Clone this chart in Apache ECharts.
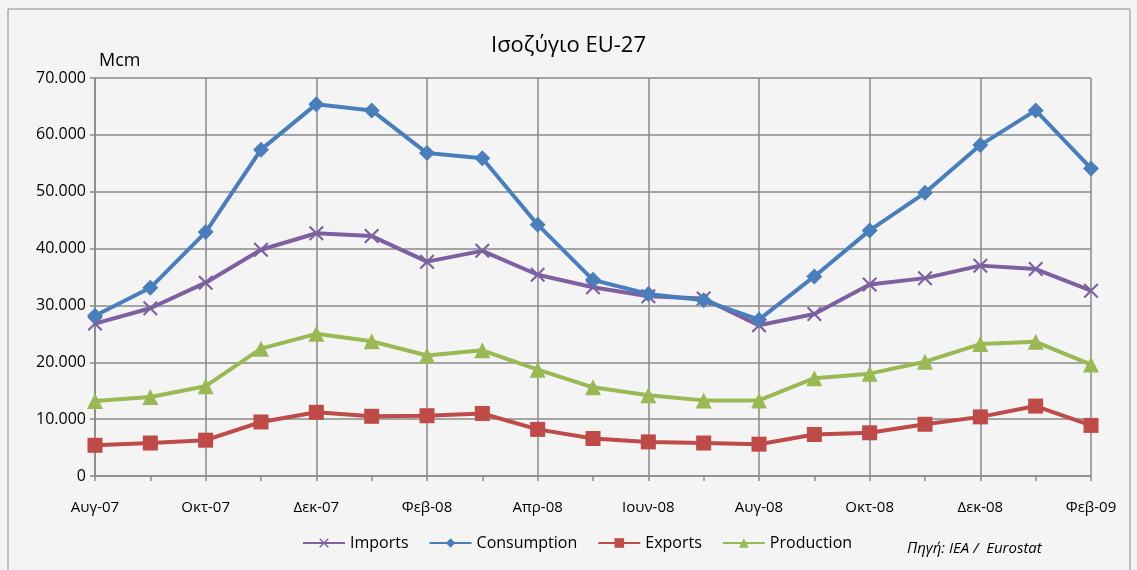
<!DOCTYPE html>
<html>
<head>
<meta charset="utf-8">
<script src="https://cdn.jsdelivr.net/npm/echarts@6/dist/echarts.min.js"></script>
<style>
  html, body { margin: 0; padding: 0; background: #fff; }
  #chart { width: 1137px; height: 570px; }
</style>
</head>
<body>
<div id="chart"></div>
<script>
// μήνες Αυγ-07 .. Φεβ-09
var months = ['Αυγ-07', 'Σεπ-07', 'Οκτ-07', 'Νοε-07', 'Δεκ-07', 'Ιαν-08', 'Φεβ-08', 'Μαρ-08',
  'Απρ-08', 'Μαϊ-08', 'Ιουν-08', 'Ιουλ-08', 'Αυγ-08', 'Σεπ-08', 'Οκτ-08', 'Νοε-08',
  'Δεκ-08', 'Ιαν-09', 'Φεβ-09'];

// τιμές σε Mcm
var imports = [26800, 29500, 34000, 39800, 42700, 42200, 37700, 39600, 35400, 33200,
  31600, 31200, 26500, 28500, 33700, 34800, 37000, 36400, 32600];
var consumption = [28200, 33100, 42900, 57400, 65400, 64300, 56800, 55900, 44200, 34500,
  32000, 30900, 27500, 35100, 43200, 49800, 58200, 64300, 54100];
var exportsData = [5400, 5800, 6300, 9500, 11200, 10500, 10600, 11000, 8200, 6600,
  6000, 5800, 5600, 7300, 7600, 9100, 10400, 12300, 8900];
var production = [13200, 13900, 15800, 22400, 25000, 23700, 21200, 22100, 18700, 15600,
  14200, 13300, 13300, 17200, 18000, 20100, 23200, 23600, 19600];

var font = '"Open Sans", "Noto Sans", sans-serif';
var gridColor = '#8a8a8a';
var crossPath = 'path://M0,1 L1,0 L5,4 L9,0 L10,1 L6,5 L10,9 L9,10 L5,6 L1,10 L0,9 L4,5 Z';

function lineSeries(name, data, color, symbol, size) {
    return {
        name: name,
        type: 'line',
        data: data,
        symbol: symbol,
        symbolSize: size,
        showSymbol: true,
        lineStyle: { color: color, width: 4 },
        itemStyle: { color: color },
        emphasis: { disabled: true }
    };
}

var chart = echarts.init(document.getElementById('chart'));

var option = {
    backgroundColor: '#f4f4f4',
    animation: false,
    textStyle: { fontFamily: font },
    title: {
        text: 'Ισοζύγιο EU-27',
        left: 'center',
        top: 30,
        textStyle: { fontFamily: font, fontSize: 22, fontWeight: 'normal', color: '#000' }
    },
    graphic: [
        {
            type: 'rect',
            shape: { x: 8, y: 9, width: 1122, height: 580 },
            style: { fill: 'none', stroke: '#8c8c8c', lineWidth: 1 }
        },
        {
            type: 'text',
            left: 907,
            top: 541,
            style: {
                text: 'Πηγή: IEA /  Eurostat',
                font: 'italic 15px ' + font,
                fill: '#000'
            }
        },
        {
            type: 'text',
            left: 99,
            top: 52,
            style: { text: 'Mcm', font: '18px ' + font, fill: '#000' }
        }
    ],
    legend: {
        bottom: 14,
        left: 297,
        itemWidth: 42,
        itemHeight: 12,
        itemGap: 20,
        textStyle: { fontFamily: font, fontSize: 16, color: '#000' },
        data: ['Imports', 'Consumption', 'Exports', 'Production']
    },
    grid: { left: 95, right: 46, top: 78, bottom: 94 },
    xAxis: {
        type: 'category',
        data: months,
        boundaryGap: false,
        axisLine: { lineStyle: { color: gridColor, width: 1.5 } },
        axisTick: { show: true, interval: 0, length: 5, lineStyle: { color: gridColor, width: 1.5 } },
        axisLabel: { interval: 1, margin: 24, color: '#000', fontSize: 15, fontFamily: font },
        splitLine: { show: true, interval: 1, lineStyle: { color: gridColor, width: 1.5 } }
    },
    yAxis: {
        type: 'value',
        min: 0,
        max: 70000,
        interval: 10000,
        axisLine: { show: true, lineStyle: { color: gridColor, width: 1.5 } },
        axisTick: { show: true, length: 5, lineStyle: { color: gridColor, width: 1.5 } },
        axisLabel: {
            color: '#000',
            fontSize: 16,
            fontFamily: font,
            margin: 9,
            formatter: function (v) {
                return v === 0 ? '0' : String(v).replace(/\B(?=(\d{3})+(?!\d))/g, '.');
            }
        },
        splitLine: { show: true, lineStyle: { color: gridColor, width: 1.5 } }
    },
    series: [
        lineSeries('Imports', imports, '#7e60a1', crossPath, 15),
        lineSeries('Consumption', consumption, '#4a7ebb', 'diamond', 16),
        lineSeries('Exports', exportsData, '#be4b48', 'rect', 15),
        lineSeries('Production', production, '#98b954', 'triangle', 16)
    ]
};

chart.setOption(option);
</script>
</body>
</html>
